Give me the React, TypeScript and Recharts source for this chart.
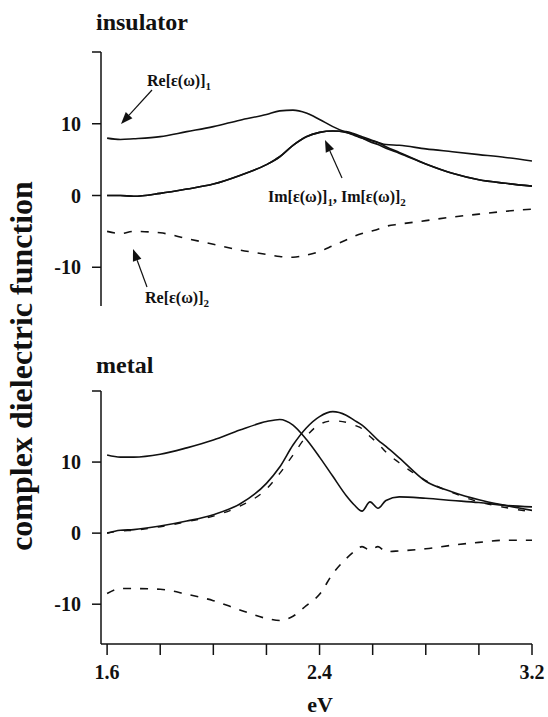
import { LineChart, Line, XAxis, YAxis } from 'recharts'

// energy grid (eV) shared by both panels
const ev = [1.6, 1.65, 1.7, 1.8, 1.9, 2.0, 2.1, 2.2, 2.25, 2.3, 2.35, 2.4, 2.45, 2.5, 2.53, 2.56, 2.59, 2.62, 2.65, 2.7, 2.8, 2.9, 3.0, 3.1, 3.2]

// insulator panel
const insRe1 = [8.0, 7.8, 7.9, 8.2, 8.9, 9.6, 10.5, 11.3, 11.8, 11.9, 11.5, 10.6, 9.6, 8.8, 8.4, 8.0, 7.7, 7.4, 7.1, 7.0, 6.5, 6.1, 5.7, 5.3, 4.8]
const insIm1 = [0.0, 0.0, -0.1, 0.3, 0.9, 1.6, 2.8, 4.3, 5.4, 7.0, 8.2, 8.8, 9.0, 8.9, 8.6, 8.2, 7.8, 7.4, 6.8, 6.0, 4.4, 3.1, 2.2, 1.7, 1.3]
const insIm2 = [0.0, 0.0, -0.1, 0.3, 0.9, 1.6, 2.8, 4.3, 5.4, 7.0, 8.2, 8.8, 9.0, 8.8, 8.5, 8.0, 7.5, 7.1, 6.6, 5.9, 4.4, 3.1, 2.2, 1.7, 1.3]
const insRe2 = [-5.0, -5.3, -5.0, -5.2, -6.0, -6.8, -7.6, -8.2, -8.5, -8.6, -8.3, -7.8, -7.0, -6.2, -5.7, -5.3, -5.0, -4.7, -4.3, -4.0, -3.5, -3.0, -2.6, -2.2, -1.9]

// metal panel
const metRe1 = [11.0, 10.7, 10.7, 11.1, 12.0, 13.1, 14.5, 15.7, 16.0, 15.2, 13.2, 10.7, 8.0, 5.3, 4.0, 3.1, 4.4, 3.5, 4.6, 5.1, 4.9, 4.6, 4.3, 3.9, 3.7]
const metIm1 = [0.0, 0.4, 0.5, 1.0, 1.7, 2.6, 4.1, 7.0, 9.3, 12.4, 14.8, 16.4, 17.1, 16.6, 15.9, 15.2, 14.2, 13.1, 12.2, 10.6, 7.3, 5.8, 4.7, 3.9, 3.2]
const metIm2 = [0.0, 0.3, 0.4, 0.9, 1.6, 2.4, 3.8, 6.2, 8.4, 11.0, 13.6, 15.3, 15.8, 15.6, 15.2, 14.7, 13.6, 12.6, 11.4, 9.9, 7.4, 5.7, 4.4, 3.6, 3.0]
const metRe2 = [-8.5, -7.8, -7.8, -7.9, -8.6, -9.5, -10.8, -12.0, -12.3, -11.7, -10.2, -8.6, -5.7, -3.6, -2.6, -1.9, -2.4, -1.9, -2.6, -2.5, -2.2, -1.7, -1.3, -1.0, -1.0]

const yTicks = [-10, 0, 10, 20]
const xTicks = [1.6, 1.8, 2.0, 2.2, 2.4, 2.6, 2.8, 3.0, 3.2]
const xLabeled = [1.6, 2.4, 3.2]

const insData = ev.map((e, i) => ({ e, re1: insRe1[i], im1: insIm1[i], im2: insIm2[i], re2: insRe2[i] }))
const metData = ev.map((e, i) => ({ e, re1: metRe1[i], im1: metIm1[i], im2: metIm2[i], re2: metRe2[i] }))

const serif = 'Liberation Serif'
const ink = '#111'
const W = 548
const H = 717
const xDomain = [1.577, 3.2]

const tickStyle = { fill: ink, fontSize: 20, fontWeight: 700, fontFamily: serif, style: { fontFamily: serif } }
const txt = { fontFamily: serif, fontWeight: 700 }

function Arrow({ x1, y1, x2, y2 }: { x1: number; y1: number; x2: number; y2: number }) {
  const a = Math.atan2(y2 - y1, x2 - x1)
  const len = 12
  const w = 4.5
  const bx = x2 - len * Math.cos(a)
  const by = y2 - len * Math.sin(a)
  const px = -Math.sin(a) * w
  const py = Math.cos(a) * w
  return (
    <g>
      <line x1={x1} y1={y1} x2={bx} y2={by} stroke={ink} strokeWidth={1.2} />
      <polygon points={`${x2},${y2} ${bx + px},${by + py} ${bx - px},${by - py}`} fill={ink} />
    </g>
  )
}

function Eps({ x, y, kind, sub }: { x: number; y: number; kind: string; sub: string }) {
  return (
    <text x={x} y={y} style={{ ...txt, fontSize: 16 }} fill={ink}>
      {kind}[ε(ω)]<tspan fontSize={11} dy={4}>{sub}</tspan>
    </text>
  )
}

function series(dashedIm2: boolean) {
  return [
    <Line key="re1" type="monotone" dataKey="re1" stroke={ink} strokeWidth={1.6} dot={false} isAnimationActive={false} />,
    <Line key="im1" type="monotone" dataKey="im1" stroke={ink} strokeWidth={1.6} dot={false} isAnimationActive={false} />,
    <Line key="im2" type="monotone" dataKey="im2" stroke={ink} strokeWidth={dashedIm2 ? 1.4 : 1.6} strokeDasharray={dashedIm2 ? '7 10' : undefined} dot={false} isAnimationActive={false} />,
    <Line key="re2" type="monotone" dataKey="re2" stroke={ink} strokeWidth={1.6} strokeDasharray="8 9" dot={false} isAnimationActive={false} />,
  ]
}

export default function App() {
  return (
    <div style={{ position: 'absolute', left: 0, top: 0, width: W, height: H, background: '#fff', fontFamily: serif }}>
      {/* insulator panel */}
      <div style={{ position: 'absolute', left: 0, top: 0 }}>
        <LineChart width={W} height={H} data={insData} margin={{ top: 52, right: 16, bottom: H - 306, left: 41 }}>
          <XAxis dataKey="e" type="number" domain={xDomain} allowDataOverflow hide />
          <YAxis
            width={60}
            domain={[-15.4, 20]}
            ticks={yTicks}
            allowDataOverflow
            interval={0}
            tickFormatter={(v: number) => (v === 20 ? '' : String(v))}
            axisLine={{ stroke: ink, strokeWidth: 1.5 }}
            tickLine={{ stroke: ink, strokeWidth: 1.5 }}
            tickSize={9}
            tickMargin={11}
            tick={tickStyle}
          />
          {series(false)}
        </LineChart>
      </div>

      {/* metal panel */}
      <div style={{ position: 'absolute', left: 0, top: 0 }}>
        <LineChart width={W} height={H} data={metData} margin={{ top: 391, right: 16, bottom: H - 644 - 40, left: 41 }}>
          <XAxis
            dataKey="e"
            type="number"
            domain={xDomain}
            allowDataOverflow
            ticks={xTicks}
            interval={0}
            height={40}
            tickFormatter={(v: number) => (xLabeled.includes(v) ? v.toFixed(1) : '')}
            axisLine={{ stroke: ink, strokeWidth: 1.5 }}
            tickLine={{ stroke: ink, strokeWidth: 1.5 }}
            tickSize={11}
            tickMargin={10}
            tick={tickStyle}
          />
          <YAxis
            width={60}
            domain={[-15.6, 20]}
            ticks={yTicks}
            allowDataOverflow
            interval={0}
            tickFormatter={(v: number) => (v === 20 ? '' : String(v))}
            axisLine={{ stroke: ink, strokeWidth: 1.5 }}
            tickLine={{ stroke: ink, strokeWidth: 1.5 }}
            tickSize={9}
            tickMargin={11}
            tick={tickStyle}
          />
          {series(true)}
        </LineChart>
      </div>

      {/* titles, axis labels and annotations */}
      <svg width={W} height={H} style={{ position: 'absolute', left: 0, top: 0, pointerEvents: 'none' }}>
        <text x={96} y={30} style={{ ...txt, fontSize: 24 }} fill={ink}>insulator</text>
        <text x={96} y={373} style={{ ...txt, fontSize: 24 }} fill={ink}>metal</text>
        <text transform="translate(32, 366) rotate(-90)" textAnchor="middle" style={{ ...txt, fontSize: 32 }} fill={ink}>
          complex dielectric function
        </text>
        <text x={320} y={712} textAnchor="middle" style={{ ...txt, fontSize: 22 }} fill={ink}>eV</text>

        <Eps x={147} y={86} kind="Re" sub="1" />
        <Arrow x1={152} y1={90} x2={121} y2={124} />

        <text x={268} y={202} style={{ ...txt, fontSize: 16 }} fill={ink}>
          Im[ε(ω)]<tspan fontSize={11} dy={4}>1</tspan><tspan dy={-4}>, Im[ε(ω)]</tspan><tspan fontSize={11} dy={4}>2</tspan>
        </text>
        <Arrow x1={342} y1={178} x2={325} y2={140} />

        <Eps x={145} y={303} kind="Re" sub="2" />
        <Arrow x1={147} y1={287} x2={133} y2={249} />
      </svg>
    </div>
  )
}
